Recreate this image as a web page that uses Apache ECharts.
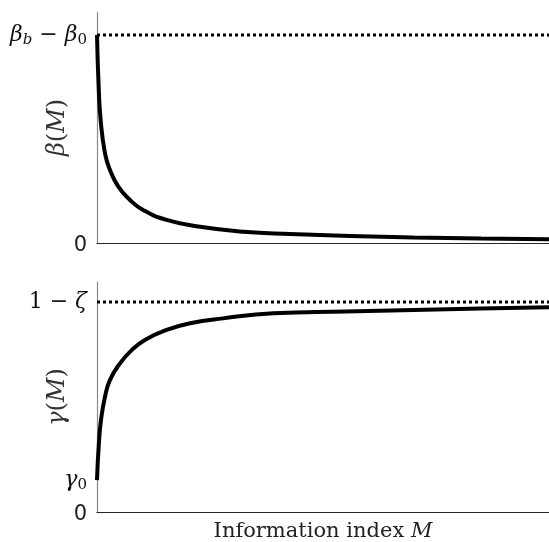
<!DOCTYPE html>
<html>
<head>
<meta charset="utf-8">
<script src="https://cdn.jsdelivr.net/npm/echarts@6/dist/echarts.min.js"></script>
<style>html,body{margin:0;padding:0;background:#fff}#c{width:549px;height:542px}</style>
</head>
<body>
<div id="c"></div>
<script>
// Information index M (0..100 normalised axis)
const betaM   = [0, 0.37, 0.81, 1.77, 2.88, 4.72, 7.3, 10.2, 15.4, 22.8, 32.4, 42.7, 56, 70, 85, 100];
const betaVal = [1.0, 0.751, 0.591, 0.431, 0.351, 0.271, 0.207, 0.159, 0.111, 0.078, 0.054, 0.043, 0.034, 0.027, 0.022, 0.018];
const gammaM   = [0, 0.37, 0.88, 1.77, 2.88, 5.09, 7.67, 10.6, 15.4, 20.6, 27.9, 39, 55, 70, 85, 100];
const gammaVal = [0.152, 0.311, 0.438, 0.549, 0.629, 0.708, 0.771, 0.819, 0.867, 0.899, 0.922, 0.946, 0.955, 0.962, 0.969, 0.975];
const betaLimit = 1.0;   // beta_b - beta_0
const gammaLimit = 1.0;  // 1 - zeta
const gamma0 = 0.152;
const betaTicks = [0, betaLimit];
const gammaTicks = [0, gamma0, gammaLimit];

const zip = (a, b) => a.map((x, i) => [x, b[i]]);
const serif = 'DejaVu Serif';
const rich = {
  i: {fontFamily: serif, fontStyle: 'italic', fontSize: 22, color: '#111', lineHeight: 26},
  r: {fontFamily: serif, fontSize: 22, color: '#111', lineHeight: 26},
  s: {fontFamily: serif, fontSize: 15, color: '#111', lineHeight: 15, verticalAlign: 'bottom', padding: [7, 0, 0, 0]},
  si: {fontFamily: serif, fontStyle: 'italic', fontSize: 15, color: '#111', lineHeight: 15, verticalAlign: 'bottom', padding: [7, 0, 0, 0]},
  d: {fontFamily: 'DejaVu Sans', fontSize: 21, color: '#222', lineHeight: 26, padding: [6, 0, 0, 0]},
  n: {fontFamily: serif, fontSize: 24, color: '#333', lineHeight: 28},
  ni: {fontFamily: serif, fontStyle: 'italic', fontSize: 24, color: '#333', lineHeight: 28},
  x: {fontFamily: serif, fontSize: 21, color: '#222', lineHeight: 24},
  xi: {fontFamily: serif, fontStyle: 'italic', fontSize: 21, color: '#222', lineHeight: 24}
};

const chart = echarts.init(document.getElementById('c'), null, {renderer: 'canvas'});
chart.setOption({
  animation: false,
  backgroundColor: '#fff',
  grid: [
    {left: 97, right: 0, top: 12, height: 231, outerBoundsMode: 'none', containLabel: false},
    {left: 97, right: 0, top: 282, height: 230, outerBoundsMode: 'none', containLabel: false}
  ],
  xAxis: [0, 1].map(g => ({
    type: 'value', gridIndex: g, min: 0, max: 100,
    axisLine: {show: true, lineStyle: {color: '#262626', width: 1.2}},
    axisTick: {show: false}, axisLabel: {show: false}, splitLine: {show: false},
    name: g === 1 ? '{x|Information index }{xi|M}' : '',
    nameLocation: 'middle', nameGap: 8, nameMoveOverlap: false,
    nameTextStyle: {verticalAlign: 'top', rich: rich}
  })),
  yAxis: [
    {
      type: 'value', gridIndex: 0, min: 0, max: 231 / 208,
      axisLine: {show: true, lineStyle: {color: '#8a8a8a', width: 1.2}},
      axisTick: {show: false}, splitLine: {show: false},
      axisLabel: {
        show: true, margin: 10, customValues: betaTicks, rich: rich,
        formatter: v => v === 0 ? '{d|0}' : '{i|β}{si|b}{r| − }{i|β}{s|0}'
      },
      name: '{ni|β}{n|(}{ni|M}{n|)}', nameLocation: 'middle', nameGap: 25, nameRotate: 90, nameMoveOverlap: false,
      nameTextStyle: {rich: rich}
    },
    {
      type: 'value', gridIndex: 1, min: 0, max: 230 / 210,
      axisLine: {show: true, lineStyle: {color: '#8a8a8a', width: 1.2}},
      axisTick: {show: false}, splitLine: {show: false},
      axisLabel: {
        show: true, margin: 10, customValues: gammaTicks, rich: rich,
        formatter: v => v === 0 ? '{d|0}' : (v === gamma0 ? '{i|γ}{s|0}' : '{r|1 − }{i|ζ}')
      },
      name: '{ni|γ}{n|(}{ni|M}{n|)}', nameLocation: 'middle', nameGap: 25, nameRotate: 90, nameMoveOverlap: false,
      nameTextStyle: {rich: rich}
    }
  ],
  series: [
    {type: 'line', xAxisIndex: 0, yAxisIndex: 0, data: [[0, betaLimit], [100, betaLimit]], symbol: 'none',
     lineStyle: {color: '#000', width: 3, type: 'dotted'}, silent: true},
    {type: 'line', xAxisIndex: 0, yAxisIndex: 0, data: zip(betaM, betaVal), symbol: 'none', smooth: 0.5,
     lineStyle: {color: '#000', width: 4}, clip: false},
    {type: 'line', xAxisIndex: 1, yAxisIndex: 1, data: [[0, gammaLimit], [100, gammaLimit]], symbol: 'none',
     lineStyle: {color: '#000', width: 3, type: 'dotted'}, silent: true},
    {type: 'line', xAxisIndex: 1, yAxisIndex: 1, data: zip(gammaM, gammaVal), symbol: 'none', smooth: 0.5,
     lineStyle: {color: '#000', width: 4}, clip: false}
  ]
});
</script>
</body>
</html>
